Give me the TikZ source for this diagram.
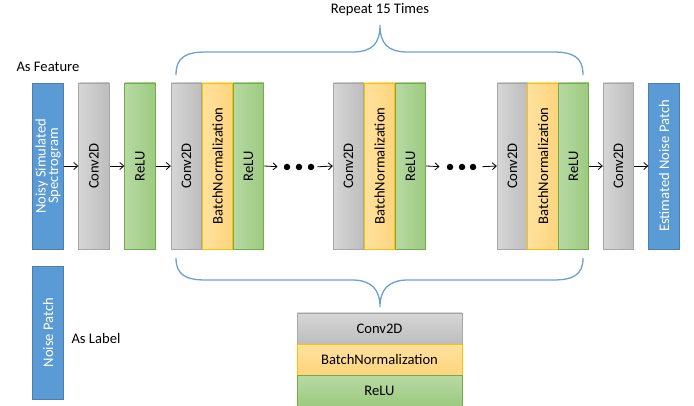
\documentclass[tikz,border=0pt]{standalone}
\usepackage{fontspec}
\setmainfont{Carlito}
\usetikzlibrary{arrows.meta}
\definecolor{bluef}{HTML}{5B9BD5}
\definecolor{blued}{HTML}{4A7FB0}
\definecolor{grayl}{HTML}{D6D6D6}
\definecolor{grayr}{HTML}{BDBDBD}
\definecolor{grayd}{HTML}{A6A6A6}
\definecolor{orl}{HTML}{FFE29F}
\definecolor{orr}{HTML}{FFD47C}
\definecolor{ord}{HTML}{FFC000}
\definecolor{grl}{HTML}{B8D9A4}
\definecolor{grr}{HTML}{9CCA7F}
\definecolor{grd}{HTML}{70AD47}
\definecolor{bracec}{HTML}{6C9FD3}
\tikzset{
  txt/.style={font=\fontsize{14.6}{15.5}\selectfont},
  col/.style={txt, minimum width=166pt, minimum height=30.5pt, inner sep=0pt, rotate=90, anchor=center},
  bluebox/.style={col, fill=bluef, draw=blued, line width=0.8pt, text=white, align=center},
  graybox/.style={col, left color=grayl, right color=grayr, draw=grayd, line width=0.8pt},
  orbox/.style={col, left color=orl, right color=orr, draw=ord, line width=0.8pt},
  grbox/.style={col, left color=grl, right color=grr, draw=grd, line width=0.8pt},
  row/.style={txt, minimum width=165pt, minimum height=31pt, inner sep=0pt, line width=0.8pt},
  arr/.style={-{Straight Barb[length=4pt,width=7pt]}, line width=0.8pt},
  dotn/.style={circle, fill=black, minimum size=6.5pt, inner sep=0pt},
  brace/.style={draw=bracec, line width=1.3pt},
}
\begin{document}
\begin{tikzpicture}[x=1pt,y=-1pt]
\useasboundingbox (0,0) rectangle (694,406);
% first row
\node[bluebox] (inp) at (48,166) {Noisy Simulated\\[-3pt]Spectrogram};
\node[graybox] (c0) at (94,166) {Conv2D};
\node[grbox] (r0) at (140,166) {ReLU};
% block 1
\node[graybox] (c1) at (186.5,166) {Conv2D};
\node[orbox] (b1) at (217.5,166) {BatchNormalization};
\node[grbox] (r1) at (248.5,166) {ReLU};
% dots 1
\node[dotn] (d1a) at (287,167) {};
\node[dotn] (d1b) at (299,167) {};
\node[dotn] (d1c) at (311,167) {};
% block 2
\node[graybox] (c2) at (348.5,166) {Conv2D};
\node[orbox] (b2) at (379.5,166) {BatchNormalization};
\node[grbox] (r2) at (410.5,166) {ReLU};
% dots 2
\node[dotn] (d2a) at (450,167) {};
\node[dotn] (d2b) at (462,167) {};
\node[dotn] (d2c) at (473,167) {};
% block 3
\node[graybox] (c3) at (512.5,166) {Conv2D};
\node[orbox] (b3) at (543,166) {BatchNormalization};
\node[grbox] (r3) at (573.5,166) {ReLU};
\node[graybox] (c4) at (618.5,166) {Conv2D};
\node[bluebox] (out) at (664,166) {Estimated Noise Patch};
% label box
\node[bluebox, minimum width=133pt] (lab) at (48,332.5) {Noise Patch};
\node[txt, anchor=west] (aslab) at (68,338) {As Label};
\node[txt, anchor=west] (asfeat) at (13,67) {As Feature};
\node[txt] (rep) at (380,10) {Repeat 15 Times};
% arrows
\draw[arr] (inp.south) -- (c0.north);
\draw[arr] (c0.south) -- (r0.north);
\draw[arr] (r0.south) -- (c1.north);
\draw[arr, shorten >=6pt] (r1.south) -- (d1a.west);
\draw[arr, shorten <=3pt] (d1c.east) -- (c2.north);
\draw[arr, shorten >=7pt] (r2.south) -- (d2a.west);
\draw[arr, shorten <=6pt] (d2c.east) -- (c3.north);
\draw[arr] (r3.south) -- (c4.north);
\draw[arr] (c4.south) -- (out.north);
% braces
\coordinate (tl) at (176,75);
\coordinate (tr) at (583,75);
\coordinate (tt) at (380,25);
\draw[brace] (tl) .. controls (176,57) and (186,52) .. (206,52) -- (352,52) .. controls (372,52) and (380,44) .. (tt)
  .. controls (380,44) and (388,52) .. (408,52) -- (553,52) .. controls (573,52) and (583,57) .. (tr);
\coordinate (bl) at (176,258);
\coordinate (br) at (583,258);
\coordinate (bt) at (380,307);
\draw[brace] (bl) .. controls (176,275) and (186,280) .. (206,280) -- (352,280) .. controls (372,280) and (380,290) .. (bt)
  .. controls (380,290) and (388,280) .. (408,280) -- (553,280) .. controls (573,280) and (583,275) .. (br);
% bottom stack
\node[row, top color=grayl, bottom color=grayr, draw=grayd] (sc) at (379.5,328.5) {Conv2D};
\node[row, top color=orl, bottom color=orr, draw=ord] (sb) at (379.5,359.5) {BatchNormalization};
\node[row, top color=grl, bottom color=grr, draw=grd] (sr) at (379.5,390.5) {ReLU};
\end{tikzpicture}
\end{document}
